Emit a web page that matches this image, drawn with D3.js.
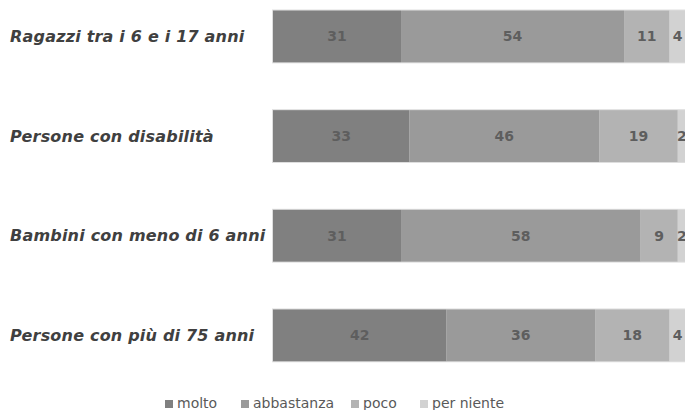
<!DOCTYPE html>
<html>
<head>
<meta charset="utf-8">
<script src="https://cdn.jsdelivr.net/npm/d3@7"></script>
<style>
  html, body { margin: 0; padding: 0; background: #ffffff; }
  svg { display: block; }
</style>
</head>
<body>
<div id="chart"></div>
<script>
// Groups (rows, top to bottom)
const categories = [
  "Ragazzi tra i 6 e i 17 anni",
  "Persone con disabilità",
  "Bambini con meno di 6 anni",
  "Persone con più di 75 anni"
];
// Answer levels (stack order, left to right)
const seriesNames = ["molto", "abbastanza", "poco", "per niente"];
// Percentages per level, one value per row
const molto      = [31, 33, 31, 42];
const abbastanza = [54, 46, 58, 36];
const poco       = [11, 19, 9, 18];
const perNiente  = [4, 2, 2, 4];

const colors = ["#808080", "#9a9a9a", "#b3b3b3", "#d2d2d2"];

const width = 685, height = 410;

const rows = categories.map((c, i) => ({
  cat: c,
  molto: molto[i],
  abbastanza: abbastanza[i],
  poco: poco[i],
  "per niente": perNiente[i]
}));

const stack = d3.stack().keys(seriesNames);
const layers = stack(rows);

const x = d3.scaleLinear().domain([0, 100]).range([273, 686]);
const y = d3.scaleBand().domain(categories)
  .range([-39.3, 411.1]).paddingInner(0.48).paddingOuter(0.5);

const svg = d3.select("#chart").append("svg")
  .attr("width", width).attr("height", height);

const color = d3.scaleOrdinal().domain(seriesNames).range(colors);

// thin light edge around each bar
svg.append("g").selectAll("rect").data(categories).enter().append("rect")
  .attr("x", x(0) - 1)
  .attr("y", d => y(d) - 1)
  .attr("width", x(100) - x(0) + 2)
  .attr("height", y.bandwidth() + 2)
  .attr("fill", "#dedede");

const g = svg.append("g");
layers.forEach(layer => {
  const key = layer.key;
  g.selectAll(null).data(layer).enter().append("rect")
    .attr("x", d => x(d[0]))
    .attr("y", d => y(d.data.cat))
    .attr("width", d => x(d[1]) - x(d[0]))
    .attr("height", y.bandwidth())
    .attr("fill", color(key));
  g.selectAll(null).data(layer).enter().append("text")
    .attr("x", d => (x(d[0]) + x(d[1])) / 2)
    .attr("y", d => y(d.data.cat) + y.bandwidth() / 2)
    .attr("text-anchor", "middle")
    .attr("dominant-baseline", "central")
    .attr("font-family", "DejaVu Sans, sans-serif")
    .attr("font-weight", "bold")
    .attr("font-size", 14)
    .attr("fill", "#5e5e5e")
    .text(d => d[1] - d[0]);
});

// Row labels on the left
svg.append("g").selectAll("text").data(categories).enter().append("text")
  .attr("x", 10)
  .attr("y", d => y(d) + y.bandwidth() / 2)
  .attr("dominant-baseline", "central")
  .attr("font-family", "DejaVu Sans, sans-serif")
  .attr("font-style", "italic")
  .attr("font-weight", "bold")
  .attr("font-size", 16)
  .attr("letter-spacing", 0.2)
  .attr("fill", "#404040")
  .text(d => d);

// Legend
const legendX = [165, 241, 351, 420];
const legend = svg.append("g").selectAll("g").data(seriesNames).enter().append("g")
  .attr("transform", (d, i) => `translate(${legendX[i]},408)`);
legend.append("rect")
  .attr("x", 0).attr("y", -8).attr("width", 8).attr("height", 8)
  .attr("fill", d => color(d));
legend.append("text")
  .attr("x", 12).attr("y", 0)
  .attr("font-family", "DejaVu Sans, sans-serif")
  .attr("font-size", 14)
  .attr("fill", "#595959")
  .text(d => d);
</script>
</body>
</html>
